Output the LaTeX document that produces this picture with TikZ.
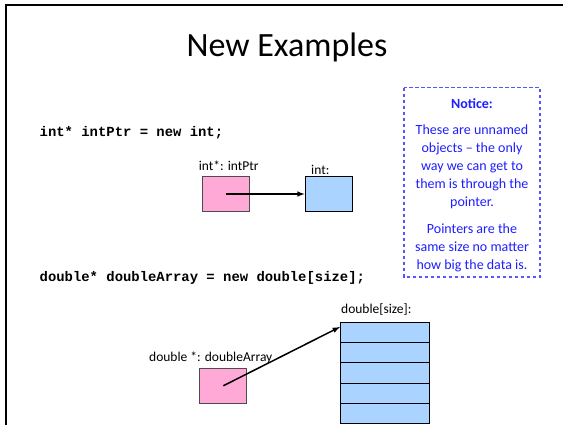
\documentclass[tikz,border=0pt]{standalone}
\usepackage{fontspec}
\setmainfont{Carlito}
\setmonofont{Liberation Mono}
\usetikzlibrary{calc}
\definecolor{pinkfill}{RGB}{255,170,214}
\definecolor{bluefill}{RGB}{170,212,255}
\definecolor{notice}{RGB}{30,30,255}
\tikzset{
  ptrbox/.style={draw=black!70,fill=pinkfill,line width=0.9pt,minimum width=47pt,minimum height=35.5pt,inner sep=0pt},
  valbox/.style={draw=black,fill=bluefill,line width=0.9pt,minimum width=47pt,minimum height=35.5pt,inner sep=0pt},
  cellbox/.style={draw=black,fill=bluefill,line width=0.9pt,minimum width=89.4pt,minimum height=20.26pt,inner sep=0pt},
  lbl/.style={font=\fontsize{13.5}{16}\selectfont,inner sep=0pt,anchor=base west},
  code/.style={font=\fontsize{13.9}{16}\selectfont\ttfamily\bfseries,inner sep=0pt,anchor=base west},
  ptrarrow/.style={-latex,line width=1.5pt},
}
\begin{document}
\begin{tikzpicture}[x=1pt,y=-1pt]
\useasboundingbox (0,0) rectangle (563,424);
% slide frame
\draw[line width=1.7pt] (5.8,430) -- (5.8,5.2) -- (570,5.2);
% title
\node[font=\fontsize{34}{38}\selectfont,inner sep=0pt,anchor=base] (title) at (287,56) {New Examples};
% code lines
\node[code] (code1) at (39.5,136) {int* intPtr = new int;};
\node[code] (code2) at (39.5,281) {double* doubleArray = new double[size];};
% int example
\node[ptrbox] (p1) at (225.5,194) {};
\node[valbox] (v1) at (328.5,194) {};
\node[lbl] (p1lbl) at (198.6,170.5) {int*: intPtr};
\node[lbl] (v1lbl) at (311,174) {int:};
\draw[ptrarrow] (p1.center) -- (v1.west);
% double example
\node[ptrbox] (p2) at (223.3,385.8) {};
\node[lbl] (p2lbl) at (149,361) {double *: doubleArray};
\foreach \i in {1,...,5}{
  \node[cellbox] (c\i) at (385.1,{322.4+10.13+(\i-1)*20.26}) {};
}
\node[lbl] (arrlbl) at (341,313.5) {double[size]:};
\draw[ptrarrow] (p2.center) -- ($(c1.north west)+(0,5)$);
% notice box
\draw[notice!75,line width=1.2pt,dash pattern=on 3.5pt off 2.5pt] (404,87.6) rectangle (540,277);
\node[text=notice,font=\fontsize{14}{18}\selectfont,align=center,inner sep=0pt,anchor=north] (noticetxt) at (472,98)
  {\textbf{Notice:}\\[8pt]
   These are unnamed\\ objects -- the only\\ way we can get to\\ them is through the\\ pointer.\\[9pt]
   Pointers are the\\ same size no matter\\ how big the data is.};
\end{tikzpicture}
\end{document}
